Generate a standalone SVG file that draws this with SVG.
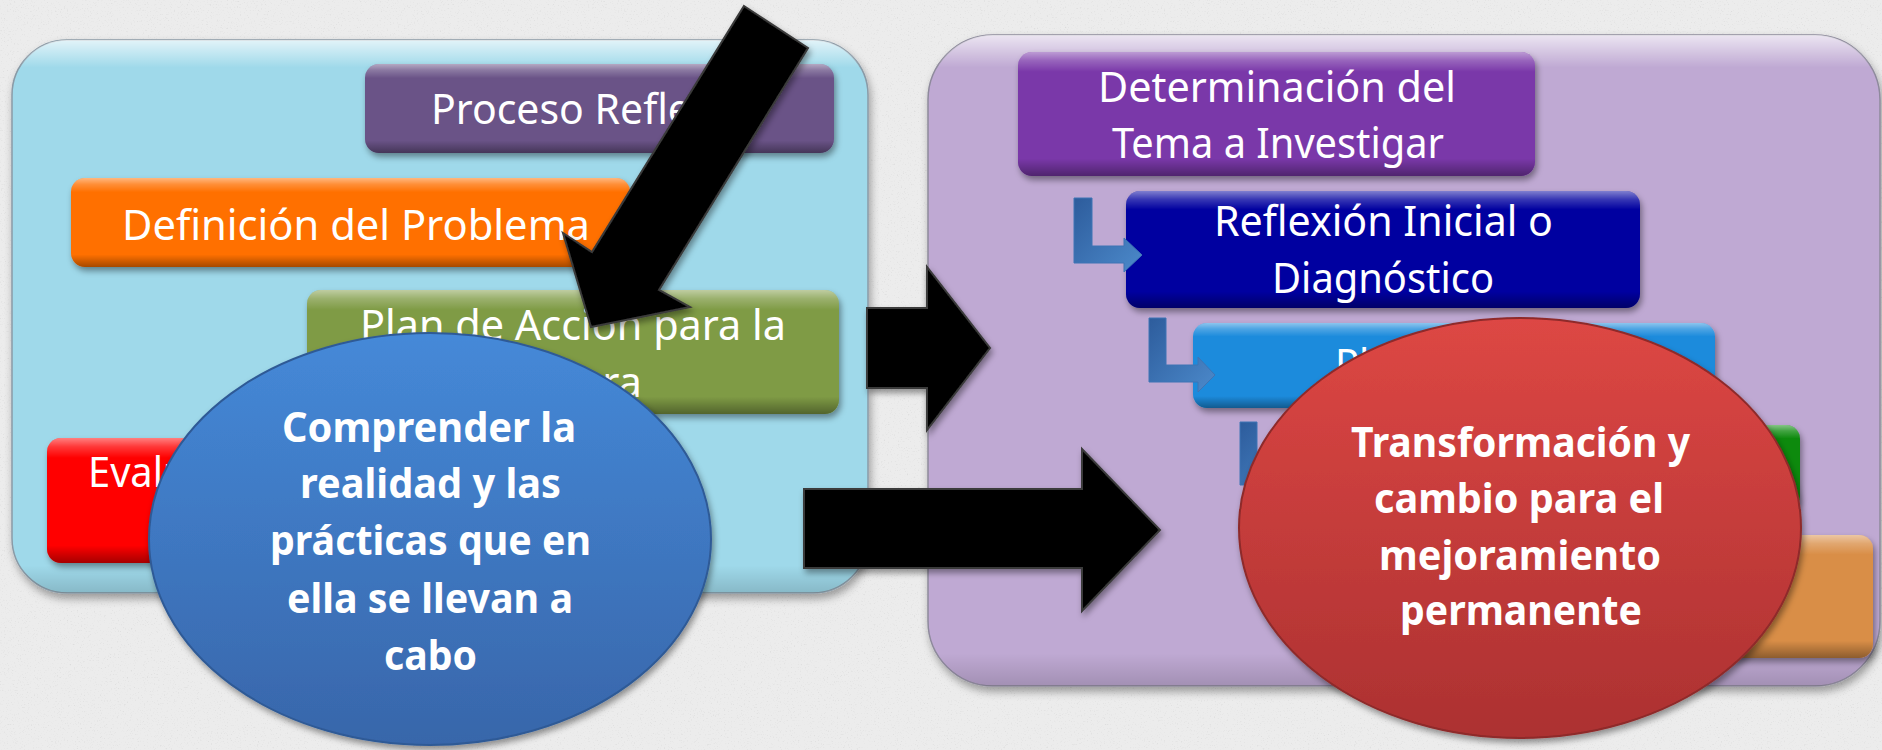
<svg xmlns="http://www.w3.org/2000/svg" width="1882" height="750" viewBox="0 0 1882 750">
<defs>
<style>
.t{font-family:"Noto Sans","Open Sans","Liberation Sans",sans-serif;font-size:42px;fill:#ffffff}
.b{font-weight:bold}
.box{filter:url(#sh)}
.gl{fill:url(#gloss)}
.arr{fill:#040404;stroke:#3a3a3a;stroke-width:2;stroke-linejoin:miter;filter:url(#sh)}
.lc{fill:url(#lconn);stroke:#3E74B4;stroke-width:1}
</style>
<filter id="noise" x="0" y="0" width="100%" height="100%">
<feTurbulence type="fractalNoise" baseFrequency="0.7" numOctaves="3" seed="7" result="t"/>
<feColorMatrix in="t" type="matrix" values="0 0 0 0 0.62  0 0 0 0 0.62  0 0 0 0 0.62  3.2 0 0 0 -1.9"/>
</filter>
<filter id="sh" x="-10%" y="-10%" width="120%" height="130%">
<feDropShadow dx="2" dy="4" stdDeviation="3" flood-color="#000" flood-opacity="0.4"/>
</filter>
<filter id="psh" x="-5%" y="-5%" width="110%" height="115%">
<feDropShadow dx="2" dy="5" stdDeviation="4" flood-color="#000" flood-opacity="0.35"/>
</filter>
<linearGradient id="gloss" x1="0" y1="0" x2="0" y2="1">
<stop offset="0" stop-color="#fff" stop-opacity="0.5"/>
<stop offset="0.07" stop-color="#fff" stop-opacity="0.22"/>
<stop offset="0.16" stop-color="#fff" stop-opacity="0"/>
<stop offset="0.86" stop-color="#000" stop-opacity="0"/>
<stop offset="1" stop-color="#000" stop-opacity="0.35"/>
</linearGradient>
<linearGradient id="pgloss" x1="0" y1="0" x2="0" y2="1">
<stop offset="0" stop-color="#fff" stop-opacity="0.7"/>
<stop offset="0.025" stop-color="#fff" stop-opacity="0.35"/>
<stop offset="0.05" stop-color="#fff" stop-opacity="0"/>
<stop offset="0.95" stop-color="#000" stop-opacity="0"/>
<stop offset="1" stop-color="#000" stop-opacity="0.15"/>
</linearGradient>
<linearGradient id="lconn" x1="0" y1="0" x2="1" y2="1">
<stop offset="0" stop-color="#2D5C9C"/>
<stop offset="1" stop-color="#4C8ACB"/>
</linearGradient>
<linearGradient id="gblue" x1="0" y1="0" x2="0" y2="1">
<stop offset="0" stop-color="#4589D8"/>
<stop offset="1" stop-color="#3866AA"/>
</linearGradient>
<linearGradient id="gred" x1="0" y1="0" x2="0" y2="1">
<stop offset="0" stop-color="#DD4744"/>
<stop offset="1" stop-color="#AC3131"/>
</linearGradient>
</defs>

<rect x="0" y="0" width="1882" height="750" fill="#ECECEC"/>
<rect x="0" y="0" width="1882" height="750" filter="url(#noise)" opacity="0.5"/>

<g id="panel-left">
<rect x="12" y="40" width="856" height="553" rx="55" fill="#9FD9EA" stroke="#8A9AA6" stroke-width="1.5" filter="url(#psh)"/>
<rect x="12" y="40" width="856" height="553" rx="55" fill="url(#pgloss)"/>
</g>
<g id="panel-right">
<rect x="928" y="35" width="952" height="651" rx="65" fill="#BFA9D3" stroke="#8E8A9C" stroke-width="1.5" filter="url(#psh)"/>
<rect x="928" y="35" width="952" height="651" rx="65" fill="url(#pgloss)"/>
</g>

<g id="node-proceso">
<rect class="box" x="365" y="64" width="469" height="89" rx="14" fill="#6A5287"/>
<rect class="gl" x="365" y="64" width="469" height="89" rx="14"/>
<text class="t" x="431" y="124" textLength="337" lengthAdjust="spacingAndGlyphs">Proceso Reflexivo</text>
</g>
<g id="node-definicion">
<rect class="box" x="71" y="178" width="559" height="89" rx="14" fill="#FF7000"/>
<rect class="gl" x="71" y="178" width="559" height="89" rx="14"/>
<text class="t" x="122" y="240" textLength="468" lengthAdjust="spacingAndGlyphs">Definición del Problema</text>
</g>
<g id="node-plan">
<rect class="box" x="307" y="290" width="532" height="124" rx="14" fill="#7F9B45"/>
<rect class="gl" x="307" y="290" width="532" height="124" rx="14"/>
<text class="t" x="360" y="340" textLength="426" lengthAdjust="spacingAndGlyphs">Plan de Acción para la</text>
<text class="t" x="505" y="397" textLength="137" lengthAdjust="spacingAndGlyphs">Mejora</text>
</g>
<g id="node-evaluacion">
<rect class="box" x="47" y="438" width="500" height="125" rx="14" fill="#FF0000"/>
<rect class="gl" x="47" y="438" width="500" height="125" rx="14"/>
<text class="t" x="88" y="487" textLength="200" lengthAdjust="spacingAndGlyphs">Evaluación</text>
</g>

<g id="node-determinacion">
<rect class="box" x="1018" y="52" width="517" height="124" rx="14" fill="#7A37A9"/>
<rect class="gl" x="1018" y="52" width="517" height="124" rx="14"/>
<text class="t" x="1098" y="102" textLength="358" lengthAdjust="spacingAndGlyphs">Determinación del</text>
<text class="t" x="1112" y="158" textLength="332" lengthAdjust="spacingAndGlyphs">Tema a Investigar</text>
</g>
<g id="node-reflexion">
<rect class="box" x="1126" y="191" width="514" height="117" rx="14" fill="#0303A0"/>
<rect class="gl" x="1126" y="191" width="514" height="117" rx="14"/>
<text class="t" x="1214" y="236" textLength="339" lengthAdjust="spacingAndGlyphs">Reflexión Inicial o</text>
<text class="t" x="1272" y="293" textLength="222" lengthAdjust="spacingAndGlyphs">Diagnóstico</text>
</g>
<g id="node-planificacion">
<rect class="box" x="1193" y="323" width="522" height="85" rx="14" fill="#1A8BDC"/>
<rect class="gl" x="1193" y="323" width="522" height="85" rx="14"/>
<text class="t" x="1335" y="379" textLength="235" lengthAdjust="spacingAndGlyphs">Planificación</text>
</g>
<g id="node-green">
<rect class="box" x="1290" y="425" width="510" height="85" rx="14" fill="#0B8A0B"/>
<rect class="gl" x="1290" y="425" width="510" height="85" rx="14"/>
</g>
<g id="node-orange">
<rect class="box" x="1400" y="535" width="473" height="123" rx="14" fill="#D98E47"/>
<rect class="gl" x="1400" y="535" width="473" height="123" rx="14"/>
</g>

<g id="connectors">
<polygon class="lc" points="1074,198 1092,198 1092,246 1124,246 1124,238 1142,255 1124,272 1124,263 1074,263"/>
<polygon class="lc" points="1149,318 1166,318 1166,365 1198,365 1198,357 1215,375 1198,392 1198,382 1149,382"/>
<polygon class="lc" points="1240,422 1257,422 1257,468 1290,468 1290,460 1307,477 1290,494 1290,485 1240,485"/>
<polygon class="arr" points="744,6 808,48 659,290 690,307 591,327 563,233 592,252"/>
<polygon class="arr" points="867,308 927,308 927,267 990,348 927,430 927,388 867,388"/>
<polygon class="arr" points="804,489 1082,489 1082,449 1160,530 1082,611 1082,568 804,568"/>
</g>

<g id="circle-comprender">
<ellipse cx="430" cy="539" rx="281" ry="206" fill="url(#gblue)" stroke="#2F5A96" stroke-width="2" filter="url(#sh)"/>
<text class="t b" x="282" y="442" textLength="294" lengthAdjust="spacingAndGlyphs">Comprender la</text>
<text class="t b" x="300" y="498" textLength="261" lengthAdjust="spacingAndGlyphs">realidad y las</text>
<text class="t b" x="270" y="555" textLength="321" lengthAdjust="spacingAndGlyphs">prácticas que en</text>
<text class="t b" x="287" y="613" textLength="286" lengthAdjust="spacingAndGlyphs">ella se llevan a</text>
<text class="t b" x="384" y="670" textLength="93" lengthAdjust="spacingAndGlyphs">cabo</text>
</g>
<g id="circle-transformacion">
<ellipse cx="1520" cy="528" rx="281" ry="210" fill="url(#gred)" stroke="#8E2A2A" stroke-width="2" filter="url(#sh)"/>
<text class="t b" x="1351" y="457" textLength="339" lengthAdjust="spacingAndGlyphs">Transformación y</text>
<text class="t b" x="1374" y="513" textLength="290" lengthAdjust="spacingAndGlyphs">cambio para el</text>
<text class="t b" x="1379" y="570" textLength="282" lengthAdjust="spacingAndGlyphs">mejoramiento</text>
<text class="t b" x="1400" y="625" textLength="242" lengthAdjust="spacingAndGlyphs">permanente</text>
</g>
</svg>
